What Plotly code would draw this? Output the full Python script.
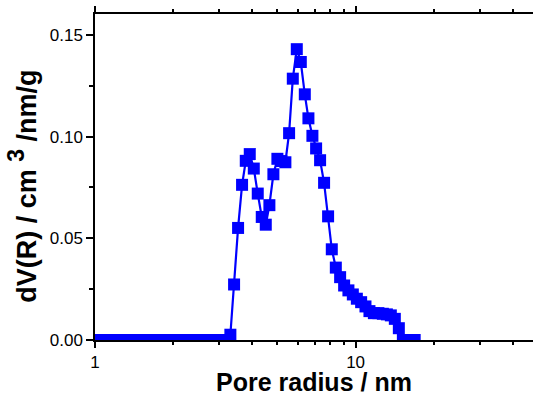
import plotly.graph_objects as go

# Pore radius (nm) and dV(R) (cm3/nm/g)
radius = [1.000, 1.036, 1.073, 1.112, 1.152, 1.193, 1.236, 1.281, 1.327, 1.375,
          1.424, 1.475, 1.529, 1.584, 1.641, 1.700, 1.761, 1.824, 1.890, 1.958,
          2.028, 2.101, 2.177, 2.255, 2.336, 2.420, 2.507, 2.597, 2.691, 2.788,
          2.888, 2.992, 3.100, 3.192,
          3.307, 3.417, 3.540, 3.667, 3.789, 3.925, 4.067, 4.212, 4.364, 4.521,
          4.668, 4.836, 5.010, 5.190, 5.377, 5.556, 5.741, 5.947, 6.161, 6.383,
          6.590, 6.827, 7.054, 7.307, 7.569, 7.842, 8.102, 8.395, 8.721, 9.035,
          9.384, 9.757, 10.11, 10.50, 10.91, 11.30, 11.75, 12.23, 12.72, 13.18,
          13.65, 14.14, 14.65, 15.18, 15.72, 16.29, 16.85]
dv = [0.0] * 34 + [
    0.0026, 0.0273, 0.0551, 0.0763, 0.0881, 0.0914, 0.0843, 0.0720, 0.0605, 0.0567,
    0.0663, 0.0815, 0.0891, 0.0880, 0.0874, 0.1017, 0.1285, 0.1430, 0.1367, 0.1208,
    0.1090, 0.1004, 0.0942, 0.0884, 0.0773, 0.0608, 0.0446, 0.0356, 0.0309, 0.0268,
    0.0244, 0.0224, 0.0203, 0.0186, 0.0165, 0.0142, 0.0132, 0.0132, 0.0129, 0.0126,
    0.0121, 0.0104, 0.0058, 0.0, 0.0, 0.0, 0.0]

x_ticks = [1, 10]
x_ticklabels = ["1", "10"]
x_title = "<b>Pore radius / nm</b>"
y_title = "<b>dV(R) / cm <sup><span style='font-size:23px'>3</span></sup> /nm/g</b>"

FONT = "Liberation Sans, Arial, sans-serif"

fig = go.Figure()
fig.add_trace(go.Scatter(
    x=radius, y=dv, mode="lines+markers",
    line=dict(color="#0000FF", width=2.2),
    marker=dict(symbol="square", size=12, color="#0000FF"),
    cliponaxis=True, showlegend=False,
))

fig.update_layout(
    width=543, height=393,
    margin=dict(l=95, r=0, t=14, b=53, autoexpand=False),
    paper_bgcolor="white", plot_bgcolor="white",
    font=dict(family=FONT, color="black", size=17),
)
fig.update_xaxes(
    type="log", range=[0, 1.719], automargin=False,
    tickvals=x_ticks, ticktext=x_ticklabels,
    ticks="outside", ticklen=6, tickwidth=1.5, tickcolor="black",
    minor=dict(ticks="outside", ticklen=3, tickwidth=1.5, tickcolor="black",
               dtick="D1", showgrid=False),
    showline=True, linecolor="black", linewidth=1.5, mirror="allticks",
    showgrid=False, zeroline=False,
    tickfont=dict(size=17),
)
fig.update_yaxes(
    range=[0, 0.1603], dtick=0.05, tick0=0, tickformat=".2f", automargin=False,
    ticks="outside", ticklen=7, tickwidth=1.5, tickcolor="black",
    minor=dict(ticks="outside", ticklen=4, tickwidth=1.5, tickcolor="black",
               dtick=0.025, showgrid=False),
    showline=True, linecolor="black", linewidth=1.5, mirror=False,
    showgrid=False, zeroline=False,
    tickfont=dict(size=17),
)

fig.add_annotation(
    text=x_title, xref="x domain", yref="paper", x=0.5, y=0,
    xanchor="center", yanchor="top", yshift=-26, xshift=-5, showarrow=False,
    font=dict(size=25, family=FONT, color="black"),
)
fig.add_annotation(
    text=y_title, xref="paper", yref="paper", x=0, y=0.47,
    xanchor="center", yanchor="middle", xshift=-73, textangle=-90, showarrow=False,
    font=dict(size=27, family=FONT, color="black"),
)

fig.write_html(
    "out.html",
    config={"displayModeBar": False},
    post_script="document.body.style.margin='0';document.body.style.overflow='hidden';document.documentElement.style.overflow='hidden';",
)
